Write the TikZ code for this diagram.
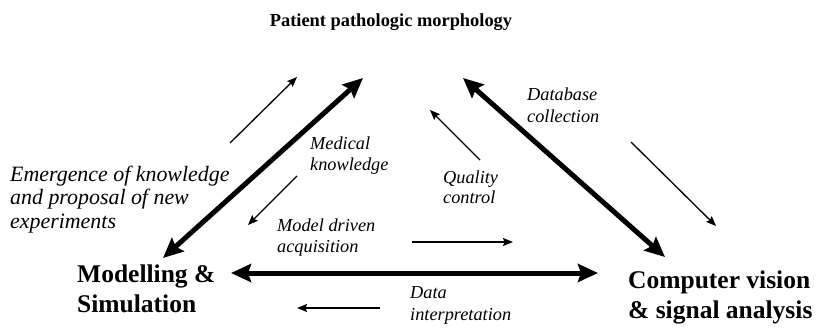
\documentclass[tikz,border=0pt]{standalone}
\usepackage{fontspec}
\setmainfont{Liberation Serif}
\usetikzlibrary{arrows.meta}
\tikzset{
  x=1pt, y=-1pt, % one unit is one pixel of the layout, y runs down
  bigarrow/.style={line width=5pt, {Stealth[length=20pt,width=18pt,inset=3pt]}-{Stealth[length=20pt,width=18pt,inset=3pt]}}, % the three sides
  smallarrow/.style={line width=1.3pt, -{Stealth[length=10pt,width=8pt,inset=1.5pt]}}, % the flows along them
  corner/.style={font=\bfseries\fontsize{25.5}{29.5}\selectfont, align=left, anchor=base west, inner sep=0pt}, % the three poles, placed by the last line
  note/.style={font=\itshape\fontsize{18.3}{21}\selectfont, align=left, anchor=base west, inner sep=0pt}, % the small labels, placed by the last line
}
\begin{document}
\begin{tikzpicture}
  \useasboundingbox (0,0) rectangle (819,329);

  % the poles
  \node[inner sep=0pt, anchor=base, font=\bfseries\fontsize{18.4}{22}\selectfont] (patient) at (391,27) {Patient pathologic morphology};
  \node[corner] (model) at (77,312) {Modelling \&\\Simulation};
  \node[corner] (vision) at (628,318) {Computer vision\\\& signal analysis};

  % the labels
  \node[note, font=\itshape\fontsize{21.9}{23.5}\selectfont] (emergence) at (10,228) {Emergence of knowledge\\and proposal of new\\experiments};
  \node[note] (medical) at (310,170) {Medical\\knowledge};
  \node[note] (driven) at (277,252) {Model driven\\acquisition};
  \node[note, font=\itshape\fontsize{18.3}{22}\selectfont] (database) at (527,122) {Database\\collection};
  \node[note, font=\itshape\fontsize{18.3}{20}\selectfont] (quality) at (443,203) {Quality\\control};
  \node[note, font=\itshape\fontsize{18.3}{22}\selectfont] (data) at (410,320) {Data\\interpretation};

  % ends of the arrows
  \coordinate (ml) at (163,258);  \coordinate (pl) at (363,78);
  \coordinate (pr) at (463,78);   \coordinate (vr) at (665,257);
  \coordinate (mh) at (231,273);  \coordinate (vh) at (598,273);
  \coordinate (e1) at (230,143);  \coordinate (e2) at (297,77);
  \coordinate (k1) at (297,176);  \coordinate (k2) at (248,225);
  \coordinate (q1) at (480,160);  \coordinate (q2) at (430,110);
  \coordinate (d1) at (631,142);  \coordinate (d2) at (716,226);
  \coordinate (a1) at (412,242);  \coordinate (a2) at (513,242);
  \coordinate (i1) at (380,308);  \coordinate (i2) at (297,308);

  \draw[bigarrow] (ml) -- (pl);
  \draw[bigarrow] (pr) -- (vr);
  \draw[bigarrow] (mh) -- (vh);

  \draw
    (e1) edge[smallarrow] (e2)
    (k1) edge[smallarrow] (k2)
    (q1) edge[smallarrow] (q2)
    (d1) edge[smallarrow] (d2)
    (a1) edge[smallarrow] (a2)
    (i1) edge[smallarrow] (i2)
    ;
\end{tikzpicture}
\end{document}
